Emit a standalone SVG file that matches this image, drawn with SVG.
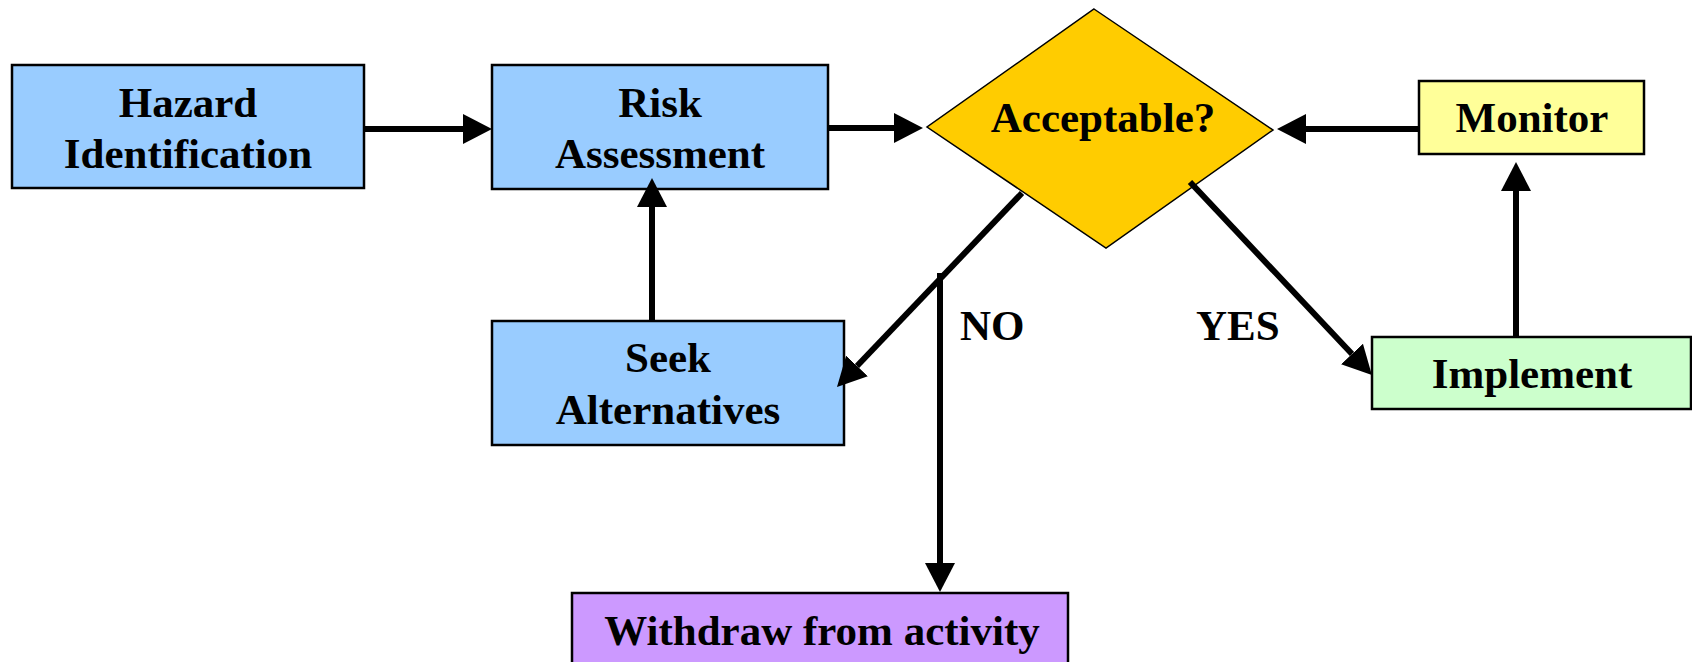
<svg xmlns="http://www.w3.org/2000/svg" width="1692" height="662" viewBox="0 0 1692 662">
<style>
.box{stroke:#000;stroke-width:2.5}
.blue{fill:#99CCFF}
.t{font-family:"Liberation Serif","Times New Roman",serif;font-weight:bold;font-size:43px;fill:#000;text-anchor:middle}
.lbl{font-family:"Liberation Serif","Times New Roman",serif;font-weight:bold;font-size:43px;fill:#000}
.c{stroke:#000;stroke-width:6;fill:none}
</style>
<defs>
<marker id="ah" viewBox="0 0 29 30" markerWidth="29" markerHeight="30" markerUnits="userSpaceOnUse" refX="0" refY="15" orient="auto">
<path d="M0,0 L29,15 L0,30 Z" fill="#000"/>
</marker>
</defs>
<rect width="1692" height="662" fill="#fff"/>
<g id="hazard">
<rect class="box blue" x="12" y="65" width="352" height="123"/>
<text class="t" x="188" y="117">Hazard</text>
<text class="t" x="188" y="168">Identification</text>
</g>
<g id="risk">
<rect class="box blue" x="492" y="65" width="336" height="124"/>
<text class="t" x="660" y="117">Risk</text>
<text class="t" x="660" y="168">Assessment</text>
</g>
<g id="acceptable">
<polygon points="1094,9 1273,130 1106,248 927,127" fill="#FFCC00" stroke="#000" stroke-width="1.5"/>
<text class="t" x="1103" y="132">Acceptable?</text>
</g>
<g id="monitor">
<rect class="box" x="1419" y="81" width="225" height="73" fill="#FFFF99"/>
<text class="t" x="1532" y="132">Monitor</text>
</g>
<g id="implement">
<rect class="box" x="1372" y="337" width="319" height="72" fill="#CCFFCC"/>
<text class="t" x="1532" y="388">Implement</text>
</g>
<g id="seek">
<rect class="box blue" x="492" y="321" width="352" height="124"/>
<text class="t" x="668" y="372">Seek</text>
<text class="t" x="668" y="424">Alternatives</text>
</g>
<g id="withdraw">
<rect class="box" x="572" y="593" width="496" height="90" fill="#CC99FF"/>
<text class="t" x="822" y="645">Withdraw from activity</text>
</g>
<g id="connectors">
<line class="c" x1="364" y1="129" x2="463" y2="129" marker-end="url(#ah)"/>
<line class="c" x1="828" y1="128" x2="894" y2="128" marker-end="url(#ah)"/>
<line class="c" x1="1419" y1="129" x2="1306" y2="129" marker-end="url(#ah)"/>
<line class="c" x1="1516" y1="337" x2="1516" y2="191" marker-end="url(#ah)"/>
<line class="c" x1="652" y1="321" x2="652" y2="207" marker-end="url(#ah)"/>
<line class="c" x1="1022" y1="193" x2="857" y2="366" marker-end="url(#ah)"/>
<line class="c" x1="940" y1="273" x2="940" y2="563" marker-end="url(#ah)"/>
<line class="c" x1="1190" y1="182" x2="1352" y2="354" marker-end="url(#ah)"/>
<text class="lbl" x="960" y="340">NO</text>
<text class="lbl" x="1196" y="340">YES</text>
</g>
</svg>
